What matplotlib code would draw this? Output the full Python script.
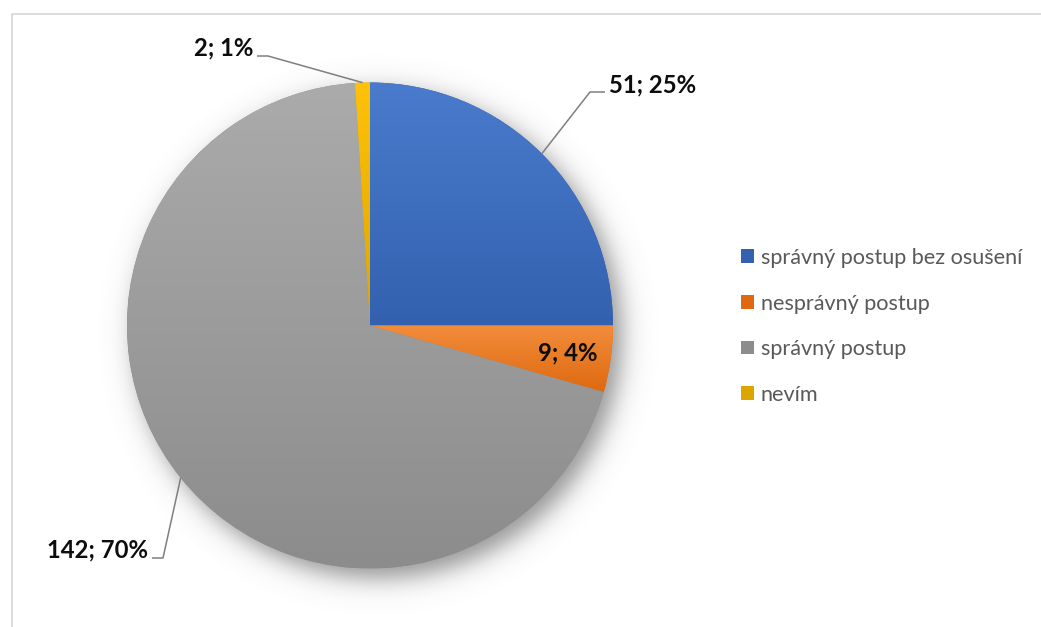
import numpy as np
import matplotlib
matplotlib.use("Agg")
import matplotlib.pyplot as plt
from matplotlib.patches import Rectangle
from matplotlib.colors import to_rgb

# --- data ---------------------------------------------------------------
categories = ["správný postup bez osušení", "nesprávný postup", "správný postup", "nevím"]
counts = [51, 9, 142, 2]

# top / bottom shades of each slice's vertical gradient
top_colors = ["#4a7bcc", "#f28d3c", "#ababab", "#ffc20a"]
bottom_colors = ["#3361b0", "#df690f", "#8c8c8c", "#dca500"]

W, H = 1041, 627
fig = plt.figure(figsize=(W / 100, H / 100), dpi=100)
ax = fig.add_axes([0, 0, 1, 1])

plt.rcParams["font.family"] = ["Lato", "DejaVu Sans"]

cx, cy, R = 370.0, H - 325.5, 243.0

# soft drop shadow under the pie
yy, xx = np.mgrid[0:H, 0:W]
sx, sy = cx + 8, (H - cy) + 9
d = np.hypot(xx - sx, yy - sy)
alpha = 0.6 / (1.0 + np.exp((d - R) / 7.5))
shadow = np.zeros((H, W, 4))
shadow[..., :3] = 0.3
shadow[..., 3] = alpha
ax.imshow(shadow, extent=(0, W, 0, H), origin="upper", zorder=1, interpolation="bilinear")

wedges, _ = ax.pie(counts, startangle=90, counterclock=False, center=(cx, cy), radius=R,
                   colors=bottom_colors, wedgeprops=dict(linewidth=0, zorder=2))

# vertical gradient fill inside each slice
for w, c0, c1 in zip(wedges, top_colors, bottom_colors):
    w.set_zorder(2)
    ext = w.get_path().get_extents()
    y0, y1 = max(ext.y0, cy - R), min(ext.y1, cy + R)
    x0, x1 = ext.x0, ext.x1
    t = np.linspace(0, 1, 256)[:, None]
    a, b = np.array(to_rgb(c0)), np.array(to_rgb(c1))
    grad = (a[None, :] * (1 - t) + b[None, :] * t)[:, None, :] * np.ones((1, 2, 1))
    im = ax.imshow(grad, extent=(x0, x1, y0, y1), origin="upper", aspect="auto",
                   zorder=3, interpolation="bilinear")
    im.set_clip_path(w)

ax.set_xlim(0, W)
ax.set_ylim(0, H)
ax.set_aspect("auto")
ax.axis("off")

# --- data labels ----------------------------------------------------------
total = sum(counts)
labels = [f"{v}; {round(100 * v / total):.0f}%" for v in counts]
angles = []
start = 90.0
for v in counts:
    sweep = 360.0 * v / total
    angles.append(np.deg2rad(start - sweep / 2))
    start -= sweep

def edge(i):
    return cx + R * np.cos(angles[i]), cy + R * np.sin(angles[i])

lab_kw = dict(fontsize=17.2, fontweight="bold", color="#0d0d0d", zorder=6)
line_kw = dict(color="#7f7f7f", lw=1.1, zorder=5, solid_capstyle="butt")

# blue slice
ex, ey = edge(0)
ax.plot([ex, 590, 605], [ey, H - 92, H - 92], **line_kw)
ax.text(609, H - 85, labels[0], ha="left", va="center", **lab_kw)

# orange slice (inside)
ix = cx + 0.82 * R * np.cos(angles[1])
iy = cy + 0.82 * R * np.sin(angles[1])
ax.text(ix, iy, labels[1], ha="center", va="center", **lab_kw)

# gray slice
ex, ey = edge(2)
ax.plot([ex, 163, 152], [ey, H - 558, H - 558], **line_kw)
ax.text(148, H - 550, labels[2], ha="right", va="center", **lab_kw)

# yellow slice
ex, ey = edge(3)
ax.plot([ex, 268, 257], [ey, H - 56, H - 56], **line_kw)
ax.text(253, H - 48, labels[3], ha="right", va="center", **lab_kw)

# --- legend ----------------------------------------------------------------
leg = ax.legend(wedges, categories, loc="upper left", bbox_to_anchor=(741 / W, 1 - 248 / H),
                bbox_transform=fig.transFigure, frameon=False, fontsize=15.6,
                handlelength=0.6, handleheight=0.6, handletextpad=0.32,
                labelspacing=1.18, borderaxespad=0, borderpad=0)
for t in leg.get_texts():
    t.set_color("#595959")

# chart area border
fig.patches.append(Rectangle((12 / W, -0.1), 1.1, (H - 14) / H + 0.1, transform=fig.transFigure,
                             fill=False, edgecolor="#d9d9d9", lw=1.3, zorder=10))

fig.savefig("out.png", dpi=100)
